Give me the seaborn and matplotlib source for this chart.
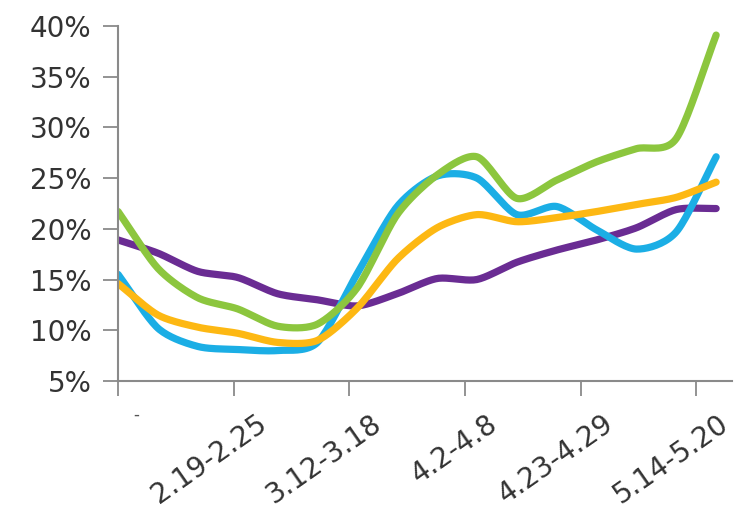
import numpy as np
import pandas as pd
import matplotlib
matplotlib.use('Agg')
import matplotlib.pyplot as plt
import matplotlib.transforms as mtransforms
import seaborn as sns

# weekly index (category positions) and the labelled weeks
weeks = list(range(16))
tick_pos = [0, 2.9, 5.8, 8.7, 11.6, 14.5]
tick_labels = ['', '2.19-2.25', '3.12-3.18', '4.2-4.8', '4.23-4.29', '5.14-5.20']

# values in %
green = [21.7, 16.1, 13.2, 12.1, 10.4, 10.6, 14.2, 21.4, 25.3, 27.1, 23.0, 24.8, 26.6, 27.9, 28.9, 39.1]
blue = [15.5, 10.2, 8.4, 8.1, 8.0, 8.8, 15.6, 22.2, 25.2, 25.0, 21.4, 22.2, 19.9, 18.0, 19.7, 27.1]
orange = [14.6, 11.5, 10.3, 9.7, 8.8, 9.0, 12.2, 17.0, 20.1, 21.4, 20.7, 21.1, 21.7, 22.4, 23.1, 24.6]
purple = [18.9, 17.6, 15.8, 15.2, 13.6, 13.0, 12.4, 13.6, 15.1, 15.0, 16.7, 17.9, 18.9, 20.1, 21.9, 22.0]

colors = {'purple': '#6A2C93', 'blue': '#1BAEE5', 'orange': '#FDB813', 'green': '#8CC63E'}


def smooth(x, y, n=20, k=0.8):
    """Cardinal curve through the points (like a smoothed spreadsheet line)."""
    x = np.asarray(x, float)
    y = np.asarray(y, float)
    px = np.concatenate([[2 * x[0] - x[1]], x, [2 * x[-1] - x[-2]]])
    py = np.concatenate([[2 * y[0] - y[1]], y, [2 * y[-1] - y[-2]]])
    t = np.linspace(0, 1, n, endpoint=False)
    h00 = 2 * t ** 3 - 3 * t ** 2 + 1
    h10 = t ** 3 - 2 * t ** 2 + t
    h01 = -2 * t ** 3 + 3 * t ** 2
    h11 = t ** 3 - t ** 2
    xs, ys = [], []
    for i in range(1, len(px) - 2):
        for p, out in ((px, xs), (py, ys)):
            p0, p1, p2, p3 = p[i - 1:i + 3]
            m1 = k * (p2 - p0) / 2
            m2 = k * (p3 - p1) / 2
            out.extend(h00 * p1 + h10 * m1 + h01 * p2 + h11 * m2)
    xs.append(x[-1]); ys.append(y[-1])
    return np.array(xs), np.array(ys)


frames = []
for name, vals in [('purple', purple), ('blue', blue), ('orange', orange), ('green', green)]:
    sx, sy = smooth(weeks, vals)
    frames.append(pd.DataFrame({'x': sx, 'y': sy, 'series': name}))
df = pd.concat(frames, ignore_index=True)

sns.set_style('white')
plt.rcParams['font.family'] = ['DejaVu Sans']

fig = plt.figure(figsize=(7.38, 5.19), dpi=100)
ax = fig.add_axes([0.16, 0.266, 0.832, 0.684])
sns.lineplot(data=df, x='x', y='y', hue='series', palette=colors, lw=5.2,
             sort=False, estimator=None, legend=False, ax=ax)

ax.set_xlim(0, 15.4)
ax.set_ylim(5, 40)
ax.set_yticks([5, 10, 15, 20, 25, 30, 35, 40])
ax.set_yticklabels([f'{v}%' for v in [5, 10, 15, 20, 25, 30, 35, 40]])
ax.set_xticks(tick_pos)
ax.set_xticklabels(tick_labels, rotation=35, ha='right', va='center',
                   rotation_mode='anchor')
ax.set_xlabel(''); ax.set_ylabel('')

for s in ['top', 'right']:
    ax.spines[s].set_visible(False)
for s in ['left', 'bottom']:
    ax.spines[s].set_color('#8a8a8a')
    ax.spines[s].set_linewidth(1.5)
ax.tick_params(axis='both', direction='out', length=11, width=1.3, color='#8a8a8a',
               labelcolor='#333333', bottom=True, left=True)
ax.tick_params(axis='y', labelsize=20, pad=8)
ax.tick_params(axis='x', labelsize=20, pad=2)

off = mtransforms.ScaledTranslation(0.30, -0.22, fig.dpi_scale_trans)
for lbl in ax.get_xticklabels():
    lbl.set_transform(lbl.get_transform() + off)

# small clipped remnant of the first label
ax.text(0.45, -0.095, '-', transform=ax.get_xaxis_transform(), ha='center',
        va='center', fontsize=12, color='#555555')

fig.savefig('out.png', dpi=100)
